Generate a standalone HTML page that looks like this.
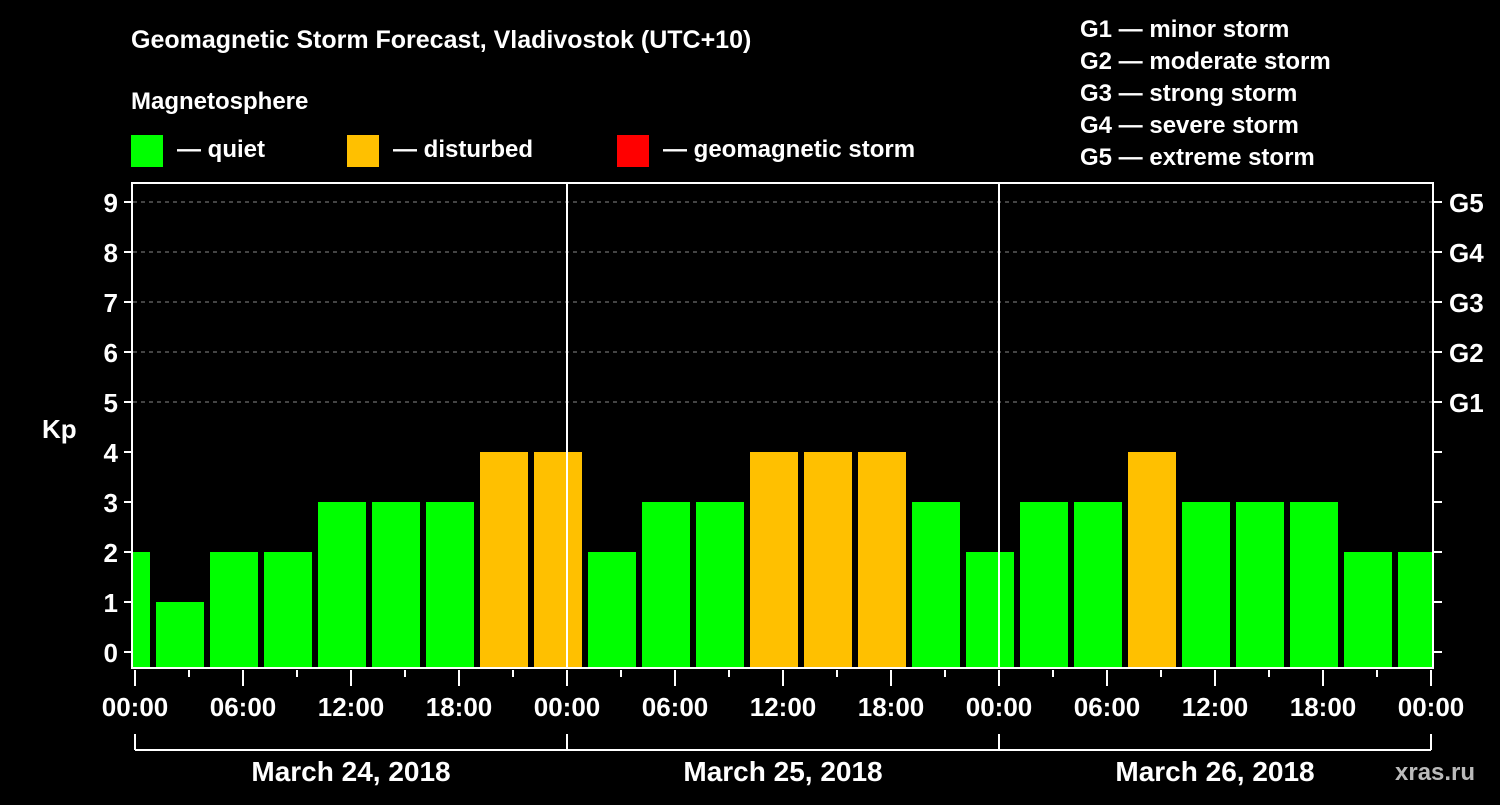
<!DOCTYPE html>
<html><head><meta charset="utf-8"><style>
html,body{margin:0;padding:0;background:#000;}
svg text{font-family:"Liberation Sans",Arial,sans-serif;font-weight:bold;fill:#fff;}
</style></head><body>
<svg id="chart" width="1500" height="800" viewBox="0 0 1500 800" xmlns="http://www.w3.org/2000/svg">
<rect width="1500" height="800" fill="#000"/>
<text x="131" y="48" font-size="25">Geomagnetic Storm Forecast, Vladivostok (UTC+10)</text>
<text x="131" y="109" font-size="24">Magnetosphere</text>
<g><rect x="131" y="135" width="32" height="32" fill="#00ff00"/><text x="177" y="157" font-size="24">— quiet</text></g>
<g><rect x="347" y="135" width="32" height="32" fill="#ffc000"/><text x="393" y="157" font-size="24">— disturbed</text></g>
<g><rect x="617" y="135" width="32" height="32" fill="#ff0000"/><text x="663" y="157" font-size="24">— geomagnetic storm</text></g>
<g font-size="24">
<text x="1080" y="37" font-size="24">G1 — minor storm</text>
<text x="1080" y="69" font-size="24">G2 — moderate storm</text>
<text x="1080" y="101" font-size="24">G3 — strong storm</text>
<text x="1080" y="133" font-size="24">G4 — severe storm</text>
<text x="1080" y="165" font-size="24">G5 — extreme storm</text>
</g>
<text x="42" y="438" font-size="26">Kp</text>
<text x="1395" y="780" font-size="24" style="fill:#bbb">xras.ru</text>
<defs><clipPath id="pc"><rect x="133" y="183" width="1300" height="485"/></clipPath></defs>
<g id="grid"></g>
<g id="bars" clip-path="url(#pc)"></g>
<g id="axes"></g>
</svg>
<script>
const kpValues=[2,1,2,2,3,3,3,4,4,2,3,3,4,4,4,3,2,3,3,4,3,3,3,2,2];
const barStartHours=[-2,1,4,7,10,13,16,19,22,25,28,31,34,37,40,43,46,49,52,55,58,61,64,67,70];
const yTicks=[0,1,2,3,4,5,6,7,8,9];
const gLabels=["G1","G2","G3","G4","G5"];
const gLevels=[5,6,7,8,9];
const xTickLabels=["00:00","06:00","12:00","18:00","00:00","06:00","12:00","18:00","00:00","06:00","12:00","18:00","00:00"];
const dayLabels=["March 24, 2018","March 25, 2018","March 26, 2018"];
const NS="http://www.w3.org/2000/svg";
const x=h=>135+h*18;
const y=v=>652-v*50;
function mk(p,t,a){const e=document.createElementNS(NS,t);for(const k in a)e.setAttribute(k,a[k]);p.appendChild(e);return e;}
const grid=document.getElementById('grid'),bars=document.getElementById('bars'),axes=document.getElementById('axes');
gLevels.forEach(v=>{const l=mk(grid,'line',{x1:133,x2:1432,y1:y(v),y2:y(v),stroke:'#888','stroke-dasharray':'4,4','stroke-width':1});

});
kpValues.forEach((v,i)=>{const h=barStartHours[i];const c=v>=5?'#ff0000':(v>=4?'#ffc000':'#00ff00');
const r=mk(bars,'rect',{x:x(h)+3,y:y(v),width:48,height:668-y(v),fill:c});

});
// day separators
[1,2].forEach(d=>{const l=mk(axes,'line',{x1:x(d*24),x2:x(d*24),y1:183,y2:668,stroke:'#fff','stroke-width':2});

});
mk(axes,'rect',{x:132,y:183,width:1301,height:485,fill:'none',stroke:'#fff','stroke-width':2});
yTicks.forEach(v=>{mk(axes,'line',{x1:124,x2:132,y1:y(v),y2:y(v),stroke:'#fff','stroke-width':2});
mk(axes,'line',{x1:1433,x2:1442,y1:y(v),y2:y(v),stroke:'#fff','stroke-width':2});
const t=mk(axes,'text',{x:118,y:y(v)+10,'font-size':26,'text-anchor':'end'});t.textContent=v;

});
gLabels.forEach((g,i)=>{const t=mk(axes,'text',{x:1449,y:y(gLevels[i])+10,'font-size':26});t.textContent=g;

});
for(let h=0;h<=72;h+=3){const maj=h%6===0;mk(axes,'line',{x1:x(h),x2:x(h),y1:670,y2:maj?686:677,stroke:'#fff','stroke-width':2});}
xTickLabels.forEach((s,i)=>{const t=mk(axes,'text',{x:x(i*6),y:716,'font-size':26,'text-anchor':'middle'});t.textContent=s;

});
mk(axes,'line',{x1:x(0),x2:x(72),y1:750,y2:750,stroke:'#fff','stroke-width':2});
[0,24,48,72].forEach(h=>mk(axes,'line',{x1:x(h),x2:x(h),y1:734,y2:750,stroke:'#fff','stroke-width':2}));
dayLabels.forEach((s,i)=>{const t=mk(axes,'text',{x:x(i*24+12),y:781,'font-size':28,'text-anchor':'middle'});t.textContent=s;

});
</script>
</body></html>
